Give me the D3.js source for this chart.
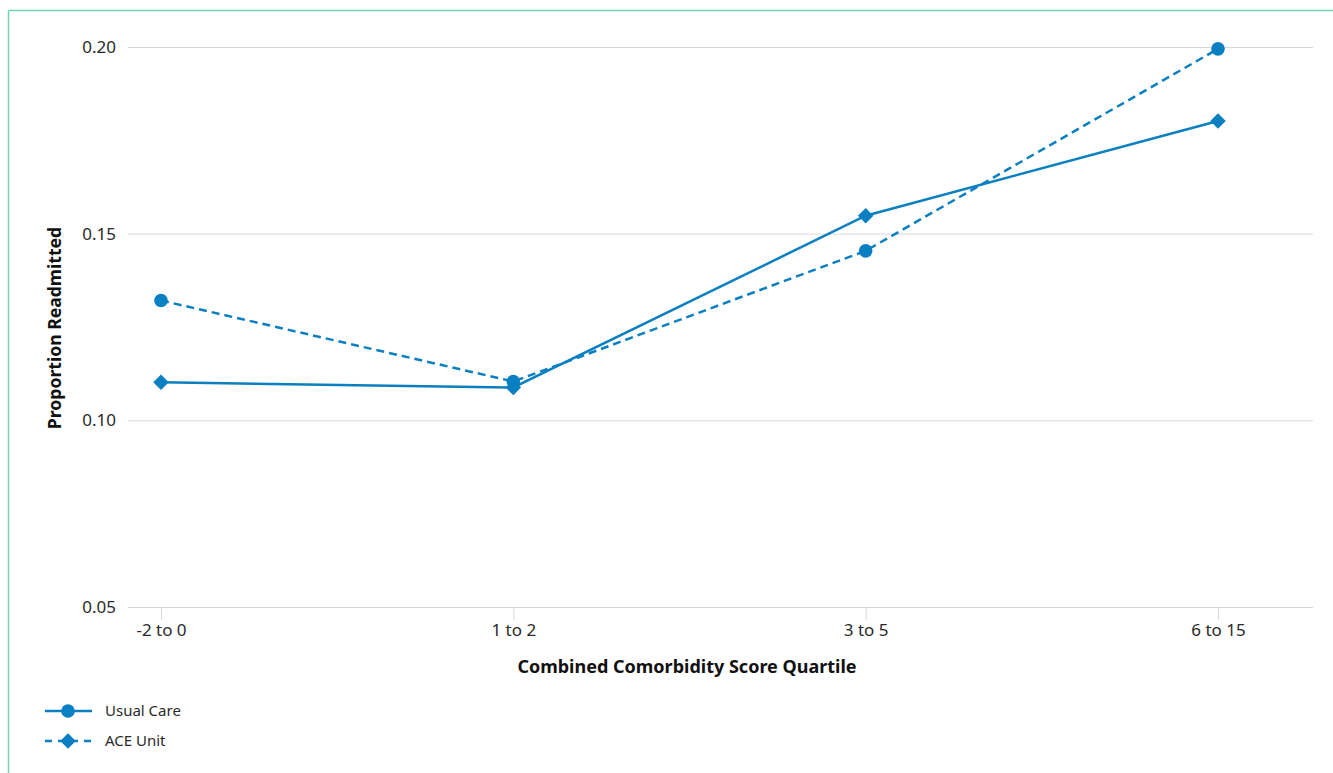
<!DOCTYPE html>
<html>
<head>
<meta charset="utf-8">
<script src="https://cdn.jsdelivr.net/npm/d3@7"></script>
<style>
  html, body { margin: 0; padding: 0; background: #fff; }
  svg { display: block; font-family: "Noto Sans", Lato, sans-serif; }
</style>
</head>
<body>
<svg id="chart" width="1333" height="773"></svg>
<script>
// Readmission proportions by comorbidity score quartile
const categories = ["-2 to 0", "1 to 2", "3 to 5", "6 to 15"];
const solidValues = [0.1102, 0.1088, 0.1548, 0.1802];   // solid line, diamond markers
const dashedValues = [0.1321, 0.1104, 0.1454, 0.1995];  // dashed line, circle markers
const yTicks = [0.05, 0.10, 0.15, 0.20];
const legendLabels = ["Usual Care", "ACE Unit"];

const color = "#0a7fc1";
const font = "'Noto Sans', Lato, sans-serif";
const svg = d3.select("#chart");

// frame
svg.append("line").attr("x1", 8.5).attr("x2", 8.5).attr("y1", 10.5).attr("y2", 773)
  .attr("stroke", "#74d3b4").attr("stroke-width", 1.5);
svg.append("line").attr("x1", 8.5).attr("x2", 1333).attr("y1", 10.5).attr("y2", 10.5)
  .attr("stroke", "#74d3b4").attr("stroke-width", 1.5);

const plot = { left: 128, right: 1313, top: 47, bottom: 607 };

const x = d3.scalePoint().domain(categories).range([161, 1218]);
const y = d3.scaleLinear().domain([0.05, 0.20]).range([plot.bottom, plot.top]);

// gridlines + y labels
const yAxis = d3.axisLeft(y).tickValues(yTicks).tickFormat(d3.format(".2f"))
  .tickSize(-(plot.right - plot.left)).tickPadding(12);
const gy = svg.append("g").attr("transform", `translate(${plot.left},0)`).call(yAxis);
gy.select(".domain").remove();
gy.selectAll(".tick line").attr("stroke", "#d9d9d9").attr("stroke-width", 1);
gy.selectAll(".tick text").attr("fill", "#2a2a2a").style("font-size", "17px")
  .style("font-family", font);

// x axis ticks + labels
const xAxis = d3.axisBottom(x).tickSize(13).tickPadding(4);
const gx = svg.append("g").attr("transform", `translate(0,${plot.bottom})`).call(xAxis);
gx.select(".domain").remove();
gx.selectAll(".tick line").attr("stroke", "#d9d9d9");
gx.selectAll(".tick text").attr("fill", "#2a2a2a").style("font-size", "17px")
  .style("font-family", font);

// axis titles
svg.append("text").attr("x", 687).attr("y", 673).attr("text-anchor", "middle")
  .attr("fill", "#111").style("font-size", "18px").style("font-weight", "bold")
  .text("Combined Comorbidity Score Quartile");
svg.append("text").attr("transform", "translate(61,328) rotate(-90)").attr("text-anchor", "middle")
  .attr("fill", "#111").style("font-size", "17.6px").style("font-weight", "bold")
  .text("Proportion Readmitted");

const line = d3.line().x((d, i) => x(categories[i])).y(d => y(d));
const diamondPath = d3.symbol().type(d3.symbolSquare).size(120);

// dashed series with circles
svg.append("path").datum(dashedValues).attr("d", line).attr("fill", "none")
  .attr("stroke", color).attr("stroke-width", 2.5).attr("stroke-dasharray", "8,5");
// solid series with diamonds
svg.append("path").datum(solidValues).attr("d", line).attr("fill", "none")
  .attr("stroke", color).attr("stroke-width", 2.5);

svg.selectAll(".circ").data(dashedValues).enter().append("circle")
  .attr("cx", (d, i) => x(categories[i])).attr("cy", d => y(d)).attr("r", 6.8).attr("fill", color);
svg.selectAll(".diam").data(solidValues).enter().append("path")
  .attr("transform", (d, i) => `translate(${x(categories[i])},${y(d)}) rotate(45)`)
  .attr("d", diamondPath).attr("fill", color);

// legend
const lg = svg.append("g");
legendLabels.forEach((lab, i) => {
  const ly = 711 + i * 30;
  lg.append("line").attr("x1", 45).attr("x2", 92).attr("y1", ly).attr("y2", ly)
    .attr("stroke", color).attr("stroke-width", 2.5)
    .attr("stroke-dasharray", i === 1 ? "7,6" : null);
  if (i === 0) {
    lg.append("circle").attr("cx", 68).attr("cy", ly).attr("r", 6.8).attr("fill", color);
  } else {
    lg.append("path").attr("transform", `translate(68,${ly}) rotate(45)`)
      .attr("d", diamondPath).attr("fill", color);
  }
  lg.append("text").attr("x", 105).attr("y", ly + 5).attr("fill", "#2a2a2a")
    .style("font-size", "15px").text(lab);
});
</script>
</body>
</html>
